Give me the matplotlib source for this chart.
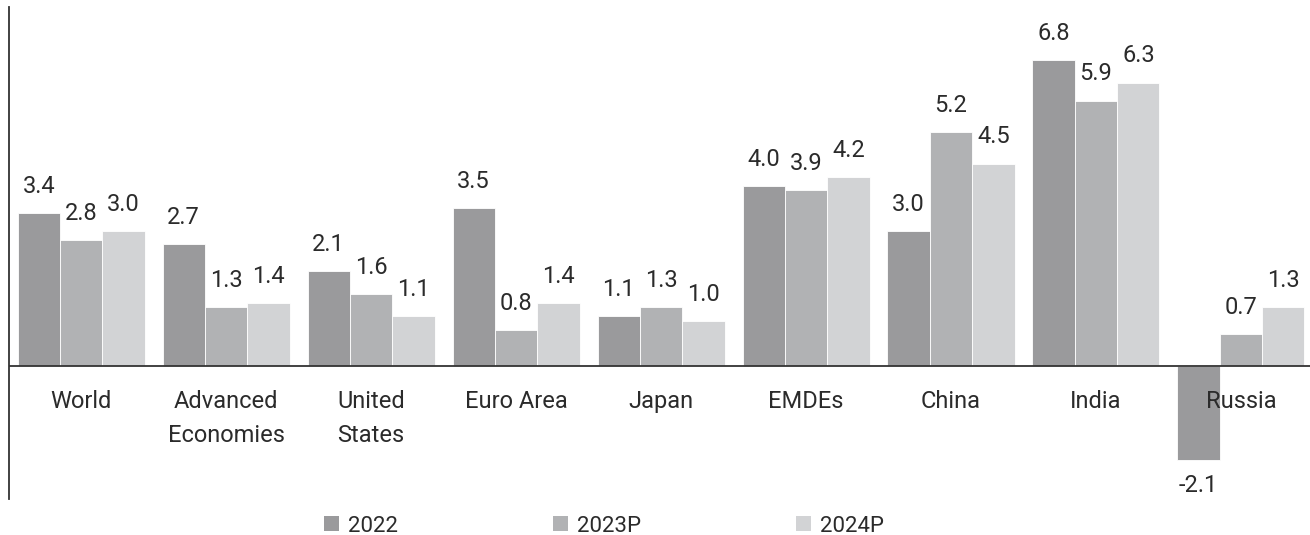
import matplotlib
matplotlib.use("Agg")
import matplotlib.pyplot as plt
from matplotlib.patches import Patch
import numpy as np

plt.rcParams['font.family'] = ['Roboto', 'DejaVu Sans']

categories = ["World", "Advanced\nEconomies", "United\nStates", "Euro Area", "Japan",
              "EMDEs", "China", "India", "Russia"]
series_names = ["2022", "2023P", "2024P"]
v2022 = [3.4, 2.7, 2.1, 3.5, 1.1, 4.0, 3.0, 6.8, -2.1]
v2023 = [2.8, 1.3, 1.6, 0.8, 1.3, 3.9, 5.2, 5.9, 0.7]
v2024 = [3.0, 1.4, 1.1, 1.4, 1.0, 4.2, 4.5, 6.3, 1.3]
colors = ["#9a9a9c", "#b1b2b4", "#d2d3d5"]
text_color = "#2b2b2b"

fig = plt.figure(figsize=(13.1, 5.35), dpi=100)
ax = fig.add_axes([9/1310, 1 - 499/535, 1 - 9/1310, (499 - 7)/535])

x = np.arange(len(categories))
w = 0.292
offsets = [-w, 0, w]
fs = 17
for vals, off, c in zip([v2022, v2023, v2024], offsets, colors):
    ax.bar(x + off, vals, width=w, color=c, edgecolor="white", linewidth=0.6, zorder=2)
    for xi, v in zip(x, vals):
        if v >= 0:
            ax.annotate(f"{v:.1f}", (xi + off, v), xytext=(0, 11), textcoords="offset points",
                        ha="center", va="bottom", fontsize=fs, color=text_color, zorder=4)
        else:
            ax.annotate(f"{v:.1f}", (xi + off, v), xytext=(0, -10), textcoords="offset points",
                        ha="center", va="top", fontsize=fs, color=text_color, zorder=4)

for xi, lab in zip(x, categories):
    ax.annotate(lab, (xi, 0), xytext=(0, -17.5), textcoords="offset points",
                ha="center", va="top", fontsize=fs, color=text_color,
                linespacing=1.62, zorder=5)

ax.axhline(0, color="#333333", linewidth=1.3, zorder=3)
ax.set_xlim(-0.497, 8.476)
ax.set_ylim(-2.96, 7.98)
for s in ["top", "right", "bottom"]:
    ax.spines[s].set_visible(False)
ax.spines["left"].set_color("#333333")
ax.spines["left"].set_linewidth(1.3)
ax.set_xticks([])
ax.set_yticks([])
ax.patch.set_alpha(0)

handles = [Patch(facecolor=c, edgecolor="none", label=n) for c, n in zip(colors, series_names)]
leg = fig.legend(handles=handles, loc="center", bbox_to_anchor=(604/1310, 1 - 526/535),
                 ncol=3, frameon=False, fontsize=16, handlelength=0.65, handleheight=0.65,
                 handletextpad=0.4, columnspacing=7.0, borderpad=0, borderaxespad=0)
for t in leg.get_texts():
    t.set_color(text_color)

fig.savefig("out.png", dpi=100)
